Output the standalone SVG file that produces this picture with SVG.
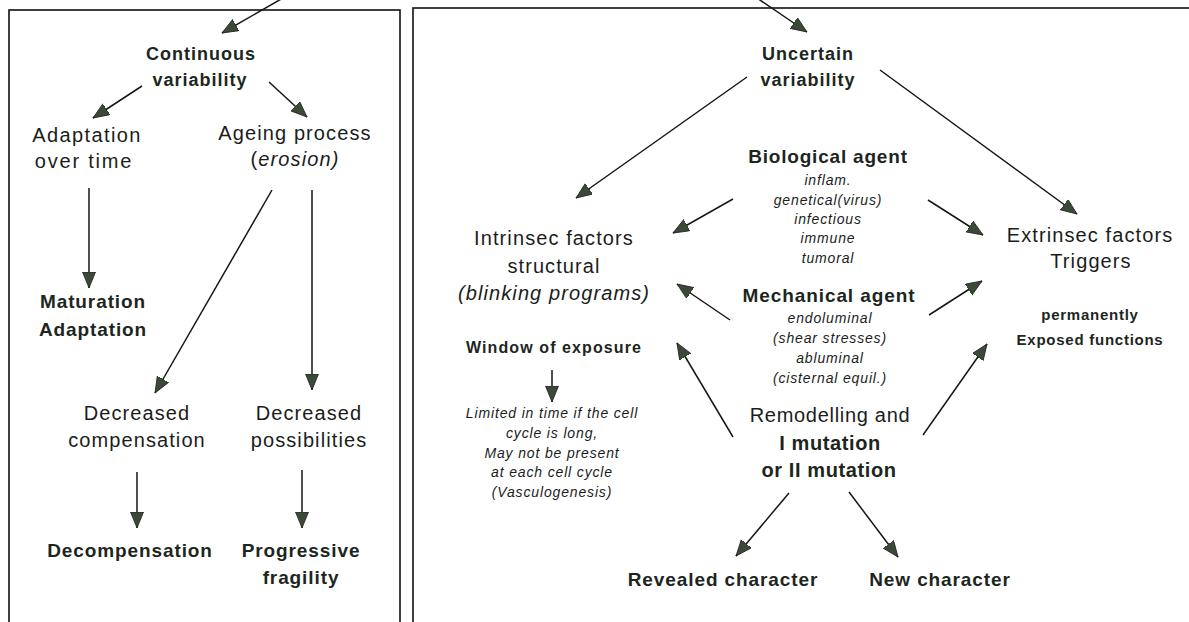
<svg xmlns="http://www.w3.org/2000/svg" width="1189" height="622" viewBox="0 0 1189 622">
<style>
text{font-family:"Liberation Sans",Arial,sans-serif;text-anchor:middle;fill:#1b1d1b}
.r{font-size:20px;letter-spacing:1.1px}
.b{font-size:19px;font-weight:bold;letter-spacing:0.9px;fill:#1d261d}
.b18{font-size:18px;font-weight:bold;letter-spacing:1px;fill:#1d261d}
.b16{font-size:16px;font-weight:bold;letter-spacing:1.1px;fill:#1d261d}
.b15{font-size:15px;font-weight:bold;letter-spacing:0.75px;fill:#1d261d}
.b20{font-size:20px;font-weight:bold;letter-spacing:0.6px;fill:#1d261d}
.i{font-size:14px;font-style:italic;letter-spacing:0.85px}
.it{font-style:italic}
.box{fill:none;stroke:#111;stroke-width:1.6}
.c line{stroke:#161616;stroke-width:1.5;marker-end:url(#ah)}
</style>
<defs>
<marker id="ah" markerUnits="userSpaceOnUse" markerWidth="17" markerHeight="14" refX="16" refY="6.5" orient="auto">
<path d="M0,0 L16,6.5 L0,13 Z" fill="#3b4a37" stroke="#222" stroke-width="0.8"/>
</marker>
</defs>
<rect width="1189" height="622" fill="#fff"/>
<rect class="box" x="9" y="10" width="391" height="630"/>
<rect class="box" x="413" y="8" width="800" height="640"/>

<g class="c" id="connectors">
<line x1="283" y1="-2" x2="222" y2="33"/>
<line x1="757" y1="-2" x2="807" y2="32"/>
<line x1="142" y1="86" x2="93" y2="118"/>
<line x1="269" y1="82" x2="307" y2="117"/>
<line x1="89" y1="188" x2="89" y2="288"/>
<line x1="272" y1="190" x2="155" y2="393"/>
<line x1="312" y1="190" x2="312" y2="390"/>
<line x1="137" y1="472" x2="137" y2="528"/>
<line x1="302" y1="470" x2="302" y2="528"/>
<line x1="747" y1="77" x2="576" y2="198"/>
<line x1="880" y1="70" x2="1077" y2="214"/>
<line x1="733" y1="199" x2="673" y2="233"/>
<line x1="928" y1="200" x2="983" y2="235"/>
<line x1="730" y1="320" x2="677" y2="284"/>
<line x1="733" y1="437" x2="677" y2="343"/>
<line x1="929" y1="315" x2="982" y2="281"/>
<line x1="923" y1="435" x2="987" y2="344"/>
<line x1="552" y1="370" x2="552" y2="402"/>
<line x1="789" y1="493" x2="736" y2="556"/>
<line x1="849" y1="492" x2="898" y2="557"/>
</g>

<g id="n-continuous"><text class="b18" x="201" y="60">Continuous</text><text class="b18" x="200" y="86">variability</text></g>
<g id="n-adaptation"><text class="r" x="87" y="142" style="letter-spacing:1.4px">Adaptation</text><text class="r" x="84" y="168" style="letter-spacing:1.8px">over time</text></g>
<g id="n-ageing"><text class="r" x="295" y="140">Ageing process</text><text class="r" x="295" y="166">(<tspan class="it">erosion)</tspan></text></g>
<g id="n-maturation"><text class="b" x="93" y="308">Maturation</text><text class="b" x="93" y="336">Adaptation</text></g>
<g id="n-deccomp"><text class="r" x="137" y="420">Decreased</text><text class="r" x="137" y="447">compensation</text></g>
<g id="n-decposs"><text class="r" x="309" y="420">Decreased</text><text class="r" x="309" y="447">possibilities</text></g>
<g id="n-decompensation"><text class="b" x="130" y="557">Decompensation</text></g>
<g id="n-fragility"><text class="b" x="301" y="557">Progressive</text><text class="b" x="301" y="584">fragility</text></g>

<g id="n-uncertain"><text class="b18" x="808" y="60">Uncertain</text><text class="b18" x="808" y="86">variability</text></g>
<g id="n-bio"><text class="b" x="828" y="163" style="letter-spacing:0.8px">Biological agent</text>
<text class="i" x="828" y="185">inflam.</text><text class="i" x="828" y="205">genetical(virus)</text><text class="i" x="828" y="224">infectious</text><text class="i" x="828" y="243">immune</text><text class="i" x="828" y="263">tumoral</text></g>
<g id="n-intrinsec"><text class="r" x="554" y="245">Intrinsec factors</text><text class="r" x="554" y="273">structural</text><text class="r it" x="554" y="300">(blinking programs)</text></g>
<g id="n-window"><text class="b16" x="554" y="353">Window of exposure</text></g>
<g id="n-limited"><text class="i" x="552" y="418">Limited in time if the cell</text><text class="i" x="552" y="438">cycle is long,</text><text class="i" x="552" y="458">May not be present</text><text class="i" x="552" y="477">at each cell cycle</text><text class="i" x="552" y="497">(Vasculogenesis)</text></g>
<g id="n-mech"><text class="b" x="829" y="302">Mechanical agent</text>
<text class="i" x="830" y="323">endoluminal</text><text class="i" x="830" y="343">(shear stresses)</text><text class="i" x="830" y="363">abluminal</text><text class="i" x="830" y="383">(cisternal equil.)</text></g>
<g id="n-remod"><text class="r" x="830" y="422" style="letter-spacing:0.7px">Remodelling and</text><text class="b20" x="830" y="450">I mutation</text><text class="b20" x="829" y="477">or II mutation</text></g>
<g id="n-revealed"><text class="b" x="723" y="586">Revealed character</text></g>
<g id="n-new"><text class="b" x="940" y="586">New character</text></g>
<g id="n-extrinsec"><text class="r" x="1090" y="242">Extrinsec factors</text><text class="r" x="1091" y="268">Triggers</text></g>
<g id="n-perm"><text class="b15" x="1090" y="320">permanently</text><text class="b15" x="1090" y="345">Exposed functions</text></g>
</svg>
